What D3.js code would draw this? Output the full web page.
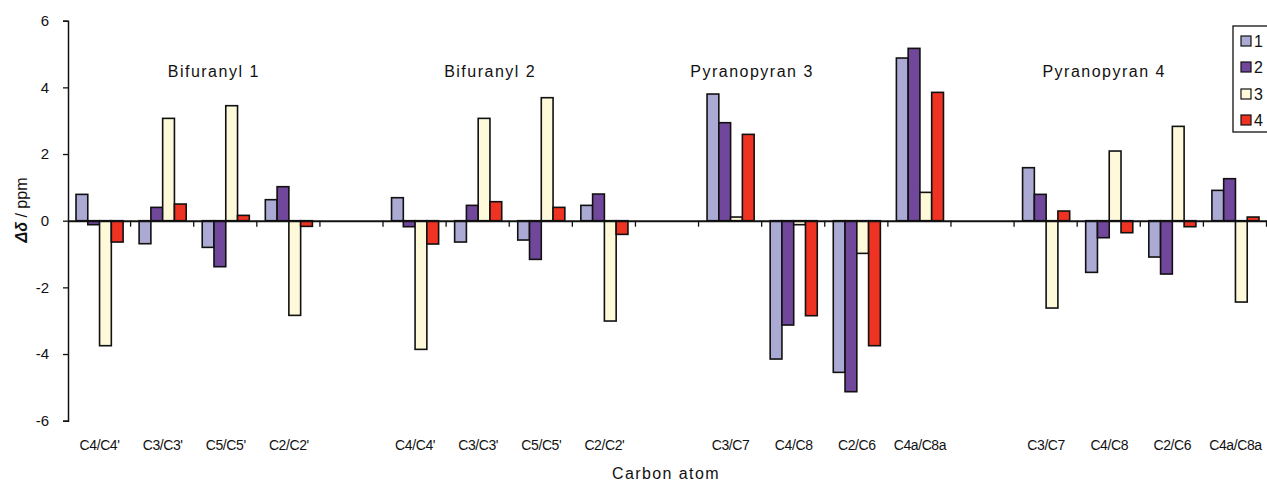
<!DOCTYPE html>
<html>
<head>
    <style>
        html,
        body {
            width: 100%;
            height: 100%;
            margin: 0;
            padding: 0;
            overflow: hidden;
            background: #fff;
        }
        text {
            font-family: "Liberation Sans", Arial, sans-serif;
            fill: #111;
        }
    </style>
</head>
<body>
<script src="https://d3js.org/d3.v7.min.js"></script>
<script>
    // Categories (blank ones separate the four compounds)
    const categories = [
        "C4/C4'", "C3/C3'", "C5/C5'", "C2/C2'", "",
        "C4/C4' ", "C3/C3' ", "C5/C5' ", "C2/C2' ", " ",
        "C3/C7", "C4/C8", "C2/C6", "C4a/C8a", "  ",
        "C3/C7 ", "C4/C8 ", "C2/C6 ", "C4a/C8a "
    ];
    const seriesNames = ["1", "2", "3", "4"];
    const seriesColors = ["#aaaad4", "#71479c", "#fdf9d9", "#ee3323"];

    // Δδ values per series, one per category (null = blank category)
    const series1 = [0.79, -0.69, -0.80, 0.63, null, 0.69, -0.64, -0.58, 0.46, null, 3.80, -4.15, -4.55, 4.88, null, 1.59, -1.55, -1.09, 0.91];
    const series2 = [-0.12, 0.40, -1.38, 1.02, null, -0.18, 0.46, -1.16, 0.80, null, 2.94, -3.13, -5.13, 5.17, null, 0.79, -0.51, -1.60, 1.26];
    const series3 = [-3.75, 3.07, 3.45, -2.84, null, -3.86, 3.07, 3.69, -3.01, null, 0.11, -0.12, -0.98, 0.85, null, -2.62, 2.09, 2.83, -2.44];
    const series4 = [-0.64, 0.50, 0.16, -0.17, null, -0.70, 0.57, 0.40, -0.41, null, 2.59, -2.85, -3.75, 3.85, null, 0.29, -0.36, -0.18, 0.11];
    const allSeries = [series1, series2, series3, series4];

    const yTicks = [-6, -4, -2, 0, 2, 4, 6];

    // Compound labels, placed by category position and value
    const groupLabels = ["Bifuranyl 1", "Bifuranyl 2", "Pyranopyran 3", "Pyranopyran 4"];
    const groupLabelPos = [2.31, 6.69, 10.84, 16.42];
    const groupLabelValue = 4.5;

    const width = 1267, height = 483;
    const margin = {left: 68, right: 0, top: 20.7, bottom: 56};

    const svg = d3.select("body").append("svg")
        .attr("width", width)
        .attr("height", height);

    const x0 = d3.scaleBand()
        .domain(categories)
        .range([margin.left, width - margin.right])
        .padding(0);
    const x1 = d3.scaleBand()
        .domain(seriesNames)
        .range([0, x0.bandwidth()])
        .paddingInner(0)
        .paddingOuter(0.68);
    const xIdx = d3.scaleLinear()
        .domain([0, categories.length])
        .range([margin.left, width - margin.right]);
    const y = d3.scaleLinear()
        .domain([-6, 6])
        .range([height - margin.bottom - 6.3, margin.top]);

    // bars
    const bars = [];
    allSeries.forEach((vals, s) => {
        vals.forEach((v, i) => {
            if (v !== null) bars.push({cat: categories[i], s: seriesNames[s], color: seriesColors[s], v: v});
        });
    });

    svg.append("g").selectAll("rect")
        .data(bars)
        .join("rect")
        .attr("x", d => x0(d.cat) + x1(d.s))
        .attr("width", x1.bandwidth())
        .attr("y", d => y(Math.max(0, d.v)))
        .attr("height", d => Math.abs(y(d.v) - y(0)))
        .attr("fill", d => d.color)
        .attr("stroke", "#111")
        .attr("stroke-width", 1.6);

    // y axis
    const yAxis = svg.append("g")
        .attr("transform", `translate(${margin.left},0)`)
        .call(d3.axisLeft(y).tickValues(yTicks).tickSize(5).tickPadding(14).tickFormat(d => String(d)));
    yAxis.select(".domain").attr("stroke", "#111").attr("stroke-width", 1.5);
    yAxis.selectAll(".tick line").attr("stroke", "#111").attr("stroke-width", 1.3);
    yAxis.selectAll("text").style("font-size", "15px").attr("fill", "#111");

    // x axis along zero
    const xAxis = svg.append("g")
        .attr("transform", `translate(0,${y(0)})`)
        .call(d3.axisBottom(x0).tickSize(0).tickFormat(""));
    xAxis.select(".domain").attr("stroke", "#111").attr("stroke-width", 2);

    // ticks between categories
    svg.append("g").selectAll("line")
        .data(d3.range(1, categories.length + 1))
        .join("line")
        .attr("x1", d => xIdx(d) - 0.5)
        .attr("x2", d => xIdx(d) - 0.5)
        .attr("y1", y(0))
        .attr("y2", y(0) + 6)
        .attr("stroke", "#111")
        .attr("stroke-width", 1.3);

    // category labels at the bottom
    svg.append("g").selectAll("text")
        .data(categories.filter(c => c.trim() !== ""))
        .join("text")
        .attr("x", d => x0(d) + x0.bandwidth() / 2)
        .attr("y", 450)
        .attr("text-anchor", "middle")
        .style("font-size", "14px")
        .style("letter-spacing", "-0.4px")
        .text(d => d.trim());

    // compound labels
    svg.append("g").selectAll("text")
        .data(groupLabels)
        .join("text")
        .attr("x", (d, i) => xIdx(groupLabelPos[i]))
        .attr("y", y(groupLabelValue) + 6)
        .attr("text-anchor", "middle")
        .style("font-size", "16px")
        .style("letter-spacing", "1.5px")
        .text(d => d);

    // axis titles
    svg.append("text")
        .attr("x", 666)
        .attr("y", 479)
        .attr("text-anchor", "middle")
        .style("font-size", "16px")
        .style("letter-spacing", "1.4px")
        .text("Carbon atom");

    const yTitle = svg.append("text")
        .attr("transform", `translate(27,210) rotate(-90)`)
        .attr("text-anchor", "middle")
        .style("font-size", "16px");
    yTitle.append("tspan").style("font-weight", "bold").style("font-style", "italic").text("Δδ");
    yTitle.append("tspan").text(" / ppm");

    // legend
    const legend = svg.append("g").attr("transform", "translate(1233,26)");
    legend.append("rect")
        .attr("width", 40)
        .attr("height", 106)
        .attr("fill", "#fff")
        .attr("stroke", "#111")
        .attr("stroke-width", 1.3);
    const legendY = [15, 41, 68, 94];
    const item = legend.selectAll("g.item")
        .data(seriesNames)
        .join("g")
        .attr("class", "item")
        .attr("transform", (d, i) => `translate(8,${legendY[i]})`);
    item.append("rect")
        .attr("y", -5)
        .attr("width", 10)
        .attr("height", 10)
        .attr("fill", (d, i) => seriesColors[i])
        .attr("stroke", "#111")
        .attr("stroke-width", 1.2);
    item.append("text")
        .attr("x", 13)
        .attr("y", 6)
        .style("font-size", "16px")
        .text(d => d);
</script>
</body>
</html>
